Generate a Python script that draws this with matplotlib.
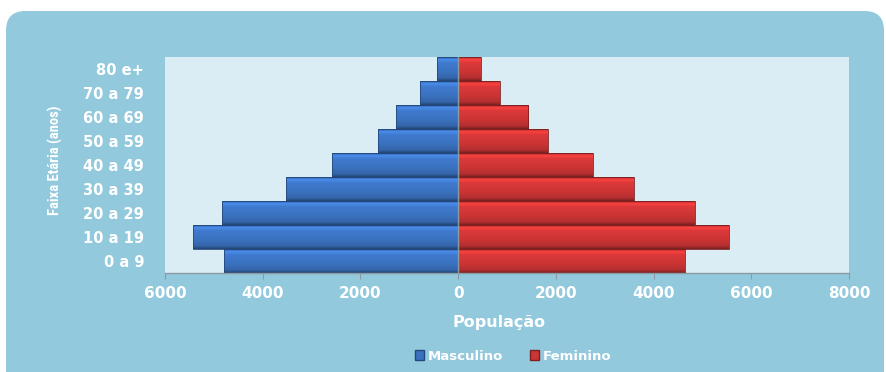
import matplotlib
matplotlib.use("Agg")
import matplotlib.pyplot as plt
import numpy as np
from matplotlib.patches import FancyBboxPatch, Patch
from matplotlib.colors import to_rgb

categories = ["0 a 9", "10 a 19", "20 a 29", "30 a 39", "40 a 49",
              "50 a 59", "60 a 69", "70 a 79", "80 e+"]
masculino = [4800, 5430, 4840, 3520, 2590, 1650, 1280, 780, 440]
feminino = [4640, 5540, 4840, 3600, 2750, 1840, 1440, 850, 460]
xticks = [-6000, -4000, -2000, 0, 2000, 4000, 6000, 8000]
xticklabels = ["6000", "4000", "2000", "0", "2000", "4000", "6000", "8000"]

fig = plt.figure(figsize=(8.86, 3.72), dpi=100)
fig.patch.set_facecolor("white")
bg = FancyBboxPatch((6/886, -0.1), (884-6)/886, (372-11)/372 + 0.1,
                    boxstyle="round,pad=0,rounding_size=0.022",
                    transform=fig.transFigure, facecolor="#93C9DC", edgecolor="none",
                    mutation_aspect=886/372, zorder=-10)
fig.add_artist(bg)

ax = fig.add_axes([165/886, 1-273/372, 684/886, 216/372])
ax.set_zorder(1)
ax.set_facecolor("#DBEDF4")

y = np.arange(len(categories))
blue = "#3B72C0"
red = "#CC3535"

def grad_bar(left, width, yc, h, base):
    r, g, b = to_rgb(base)
    t = np.linspace(0, 1, 64)
    f = np.interp(t, [0, 0.1, 0.22, 0.6, 0.88, 1.0], [0.8, 1.25, 1.08, 1.0, 0.88, 0.6])
    img = np.clip(np.stack([np.array([r, g, b]) * fi for fi in f])[:, None, :], 0, 1)
    x0, x1 = sorted([left, left + width])
    ax.imshow(img, extent=[x0, x1, yc - h/2, yc + h/2], aspect="auto",
              origin="upper", zorder=2, interpolation="bilinear")

ax.barh(y, [-v for v in masculino], height=1.0, color="none", edgecolor="#24477A",
        linewidth=0.6, zorder=3)
ax.barh(y, feminino, height=1.0, color="none", edgecolor="#7E2020",
        linewidth=0.6, zorder=3)
for i in range(len(categories)):
    grad_bar(0, -masculino[i], y[i], 1.0, blue)
    grad_bar(0, feminino[i], y[i], 1.0, red)
ax.set_xlim(-6000, 8000)
ax.set_ylim(-0.5, len(categories)-0.5)

ax.axvline(0, color="#8C9AA3", linewidth=1.0, zorder=4)

for s in ["top", "right", "left"]:
    ax.spines[s].set_visible(False)
ax.spines["bottom"].set_color("#8C9AA3")
ax.spines["bottom"].set_linewidth(1.0)

ax.set_xticks(xticks)
ax.set_xticklabels(xticklabels)
ax.set_yticks(y)
ax.set_yticklabels(categories)
ax.tick_params(axis="x", direction="out", length=4, color="#8C9AA3", colors="white",
               labelsize=11, pad=5)
ax.tick_params(axis="y", length=0, colors="white", labelsize=10.5, pad=15)
for lbl in ax.get_xticklabels() + ax.get_yticklabels():
    lbl.set_fontweight("bold")
    lbl.set_color("white")

ax.set_xlabel("População", color="white", fontsize=11.5, fontweight="bold")
ax.xaxis.label.set_verticalalignment("center")
ax.xaxis.set_label_coords((499-165)/684, -(322-273)/216)

ax.set_ylabel("Faixa Etária (anos)", color="white", fontsize=10.5, fontweight="bold",
              family=["Roboto Condensed", "Liberation Sans Narrow", "Roboto", "DejaVu Sans"],
              fontstretch="condensed")
ax.yaxis.label.set_verticalalignment("center")
ax.yaxis.set_label_coords(-(165-55)/684, (273-160)/216)

handles = [Patch(facecolor=blue, edgecolor="#24477A"), Patch(facecolor=red, edgecolor="#7E2020")]
leg = fig.legend(handles, ["Masculino", "Feminino"], loc="center", bbox_to_anchor=(513/886, 1-356/372),
                 ncol=2, frameon=False, fontsize=9.5, handlelength=0.7, handleheight=0.7,
                 handletextpad=0.3, columnspacing=2.0)
for t in leg.get_texts():
    t.set_color("white")
    t.set_fontweight("bold")

fig.savefig("out.png", dpi=100, facecolor=fig.get_facecolor())
